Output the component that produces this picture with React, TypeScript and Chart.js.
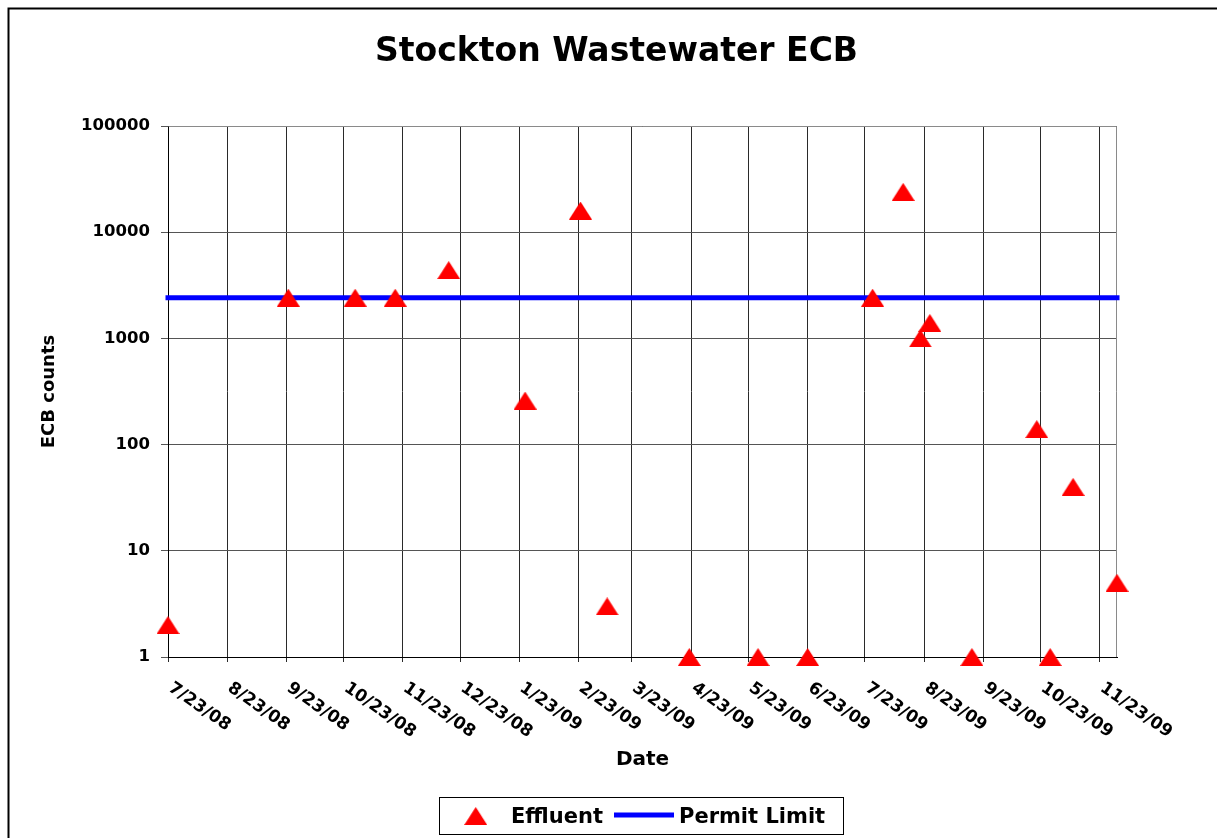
import React, { useEffect, useRef } from 'react';
import { Chart, registerables } from 'chart.js';

Chart.register(...registerables);

const TITLE = 'Stockton Wastewater ECB';
const X_TITLE = 'Date';
const Y_TITLE = 'ECB counts';
const SERIES_EFFLUENT = 'Effluent';
const SERIES_PERMIT = 'Permit Limit';

const sampleDates = [
  '7/23/08', '9/24/08', '10/29/08', '11/19/08', '12/17/08', '1/26/09', '2/24/09',
  '3/10/09', '4/22/09', '5/28/09', '6/23/09', '7/27/09', '8/12/09', '8/21/09',
  '8/26/09', '9/17/09', '10/21/09', '10/28/09', '11/9/09', '12/2/09',
];
const effluentValues = [
  2, 2420, 2420, 2420, 4400, 260, 16000,
  3, 1, 1, 1, 2420, 24000, 1000,
  1400, 1, 140, 1, 40, 5,
];
const permitLimit = 2420;

const tickDates = [
  '7/23/08', '8/23/08', '9/23/08', '10/23/08', '11/23/08', '12/23/08', '1/23/09',
  '2/23/09', '3/23/09', '4/23/09', '5/23/09', '6/23/09', '7/23/09', '8/23/09',
  '9/23/09', '10/23/09', '11/23/09',
];
const yTickValues = [1, 10, 100, 1000, 10000, 100000];

const FONT = '"DejaVu Sans", sans-serif';

function dayNumber(s: string): number {
  const [m, d, y] = s.split('/').map(Number);
  return Date.UTC(2000 + y, m - 1, d) / 86400000;
}
const originDay = dayNumber(tickDates[0]);
const toX = (s: string) => dayNumber(s) - originDay;

function makeTriangle(): HTMLCanvasElement {
  const c = document.createElement('canvas');
  c.width = 23;
  c.height = 18;
  const g = c.getContext('2d')!;
  g.fillStyle = '#FF0000';
  g.beginPath();
  g.moveTo(11.5, 0);
  g.lineTo(23, 18);
  g.lineTo(0, 18);
  g.closePath();
  g.fill();
  return c;
}

export default function App() {
  const ref = useRef<HTMLCanvasElement | null>(null);

  useEffect(() => {
    if (!ref.current) return;
    const tri = makeTriangle();

    const decorations = {
      id: 'decorations',
      beforeDraw(chart: any) {
        const ctx = chart.ctx;
        ctx.save();
        ctx.fillStyle = '#ffffff';
        ctx.fillRect(0, 0, chart.width, chart.height);
        ctx.strokeStyle = '#000';
        ctx.lineWidth = 2;
        ctx.beginPath();
        ctx.moveTo(8.5, chart.height);
        ctx.lineTo(8.5, 8.5);
        ctx.lineTo(chart.width, 8.5);
        ctx.stroke();
        ctx.restore();
      },
      beforeDatasetsDraw(chart: any) {
        const { ctx, chartArea } = chart;
        ctx.save();
        ctx.strokeStyle = '#8a8a8a';
        ctx.lineWidth = 1;
        ctx.beginPath();
        ctx.moveTo(Math.round(chartArea.left) + 0.5, Math.round(chartArea.top) + 0.5);
        ctx.lineTo(Math.round(chartArea.right) - 0.5, Math.round(chartArea.top) + 0.5);
        ctx.lineTo(Math.round(chartArea.right) - 0.5, Math.round(chartArea.bottom));
        ctx.stroke();
        ctx.restore();
      },
      afterDraw(chart: any) {
        const ctx = chart.ctx;
        const xs = chart.scales.x;
        ctx.save();
        ctx.fillStyle = '#000';

        // title
        ctx.font = `bold 33px ${FONT}`;
        ctx.textAlign = 'center';
        ctx.textBaseline = 'middle';
        ctx.fillText(TITLE, 616.5, 52);

        // rotated x tick labels
        ctx.font = `bold 17px ${FONT}`;
        ctx.textAlign = 'left';
        ctx.textBaseline = 'alphabetic';
        const ang = (35 * Math.PI) / 180;
        tickDates.forEach((d) => {
          const px = xs.getPixelForValue(toX(d));
          ctx.save();
          ctx.translate(px - 0.5, xs.top + 33);
          ctx.rotate(ang);
          ctx.fillText(d, 0, 0);
          ctx.restore();
        });

        // legend
        const ds = chart.data.datasets;
        ctx.strokeStyle = '#000';
        ctx.lineWidth = 1;
        ctx.strokeRect(439.5, 797.5, 404, 37);
        ctx.drawImage(tri, 475.7 - 11.5, 816 - 9);
        ctx.font = `bold 21px ${FONT}`;
        ctx.fillText(ds[0].label, 511, 823);
        ctx.fillStyle = '#0000FF';
        ctx.fillRect(614, 812.5, 60, 5);
        ctx.fillStyle = '#000';
        ctx.fillText(ds[1].label, 679, 823);
        ctx.restore();
      },
    };

    const chart = new Chart(ref.current, {
      type: 'line',
      data: {
        datasets: [
          {
            label: SERIES_EFFLUENT,
            data: sampleDates.map((d, i) => ({ x: toX(d), y: effluentValues[i] })),
            showLine: false,
            pointStyle: tri as any,
            pointRadius: 11,
            borderWidth: 0,
            backgroundColor: '#FF0000',
            borderColor: '#FF0000',
            clip: false as any,
            order: 0,
          },
          {
            label: SERIES_PERMIT,
            data: [
              { x: toX(sampleDates[0]), y: permitLimit },
              { x: toX(sampleDates[sampleDates.length - 1]), y: permitLimit },
            ],
            borderColor: '#0000FF',
            backgroundColor: '#0000FF',
            borderWidth: 5,
            borderCapStyle: 'square',
            pointRadius: 0,
            clip: false as any,
            order: 1,
          },
        ],
      },
      options: {
        animation: false,
        responsive: false,
        devicePixelRatio: 1,
        layout: { padding: { left: 10, right: 100, top: 126, bottom: 0 } },
        plugins: {
          legend: { display: false },
          tooltip: { enabled: false },
          title: { display: false },
        },
        scales: {
          x: {
            type: 'linear',
            min: 0,
            max: toX(sampleDates[sampleDates.length - 1]),
            afterBuildTicks: (s: any) => {
              s.ticks = tickDates.map((d) => ({ value: toX(d) }));
            },
            afterFit: (s: any) => {
              s.height = 181;
            },
            ticks: { display: false },
            grid: { color: '#2a2a2a', lineWidth: 1, tickLength: 5, drawTicks: true },
            border: { color: '#000', width: 1 },
            title: {
              display: true,
              text: X_TITLE,
              color: '#000',
              font: { family: FONT, size: 20, weight: 'bold' },
              padding: { top: 0, bottom: 66 },
            },
          },
          y: {
            type: 'logarithmic',
            min: 1,
            max: 100000,
            afterBuildTicks: (s: any) => {
              s.ticks = yTickValues.map((v) => ({ value: v }));
            },
            afterFit: (s: any) => {
              s.width = 158;
            },
            ticks: {
              callback: (v: any) => String(v),
              color: '#000',
              font: { family: FONT, size: 16.5, weight: 'bold' },
              padding: 11,
            },
            grid: { color: '#555', lineWidth: 1, tickLength: 7 },
            border: { color: '#000', width: 1 },
            title: {
              display: true,
              text: Y_TITLE,
              color: '#000',
              font: { family: FONT, size: 18, weight: 'bold' },
              padding: { top: 29, bottom: 0 },
            },
          },
        },
      } as any,
      plugins: [decorations],
    });
    return () => chart.destroy();
  }, []);

  return (
    <div style={{ position: 'fixed', left: 0, top: 0, width: 1217, height: 838 }}>
      <canvas ref={ref} width={1217} height={838} style={{ display: 'block' }} />
    </div>
  );
}
